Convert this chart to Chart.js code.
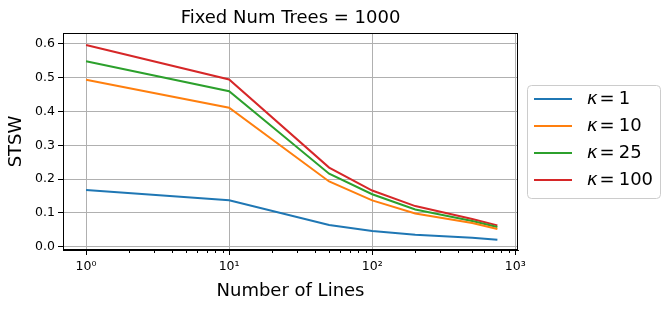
<!DOCTYPE html>
<html>
<head>
<meta charset="utf-8">
<script src="https://cdn.jsdelivr.net/npm/chart.js@4"></script>
<style>
  html, body { margin: 0; padding: 0; background: #fff; }
  #wrap { width: 670px; height: 312px; position: relative; }
</style>
</head>
<body>
<div id="wrap"><canvas id="chart"></canvas></div>
<script>
// data
const numLines = [1, 10, 50, 100, 200, 500, 750];
const kappaLabels = ["1", "10", "25", "100"];
const kappa1 = [0.168, 0.137, 0.064, 0.046, 0.035, 0.026, 0.020];
const kappa10 = [0.494, 0.411, 0.193, 0.137, 0.098, 0.070, 0.052];
const kappa25 = [0.549, 0.460, 0.216, 0.155, 0.110, 0.076, 0.058];
const kappa100 = [0.597, 0.495, 0.234, 0.166, 0.120, 0.082, 0.063];
const yTicks = [0, 0.1, 0.2, 0.3, 0.4, 0.5, 0.6];
const titleText = "Fixed Num Trees = 1000";

const colors = ["#1f77b4", "#ff7f0e", "#2ca02c", "#d62728"];
const series = [kappa1, kappa10, kappa25, kappa100];
const font = "DejaVu Sans";
const sup = { 0: "\u2070", 1: "\u00b9", 2: "\u00b2", 3: "\u00b3" };

function isMajor(v) {
  const l = Math.log10(v);
  return Math.abs(l - Math.round(l)) < 1e-9;
}

const ctx = document.getElementById("chart");

// frame, minor ticks, title, legend
const extras = {
  id: "extras",
  afterDraw(chart) {
    const c = chart.ctx;
    const a = chart.chartArea;
    const xs = chart.scales.x;
    c.save();
    c.strokeStyle = "#000";
    c.lineWidth = 1;
    c.strokeRect(a.left + 0.5, a.top + 0.5, a.right - a.left - 1, a.bottom - a.top - 1);
    // minor ticks
    xs.ticks.forEach((t) => {
      if (isMajor(t.value)) return;
      const px = Math.round(xs.getPixelForValue(t.value)) + 0.5;
      c.beginPath();
      c.moveTo(px, a.bottom);
      c.lineTo(px, a.bottom + 3);
      c.stroke();
    });
    // title
    c.fillStyle = "#000";
    c.font = "18px '" + font + "'";
    c.textAlign = "center";
    c.textBaseline = "middle";
    c.fillText(titleText, (a.left + a.right) / 2, 18);
    // legend
    const lx = 527, ly = 85, lw = 133, lh = 113;
    c.beginPath();
    c.roundRect(lx + 0.5, ly + 0.5, lw, lh, 4);
    c.fillStyle = "rgba(255,255,255,0.8)";
    c.fill();
    c.strokeStyle = "#cccccc";
    c.stroke();
    chart.data.datasets.forEach((ds, i) => {
      const y = 99 + i * 27;
      c.strokeStyle = ds.borderColor;
      c.lineWidth = 2;
      c.beginPath();
      c.moveTo(534, y);
      c.lineTo(572, y);
      c.stroke();
      c.fillStyle = "#000";
      c.textAlign = "left";
      c.font = "italic 18px '" + font + "'";
      c.fillText("\u03ba", 587, y);
      const kw = c.measureText("\u03ba").width;
      c.font = "18px '" + font + "'";
      const eqX = 587 + kw + 2;
      c.fillText("=", eqX, y);
      const ew = c.measureText("=").width;
      c.fillText(kappaLabels[i], eqX + ew + 4, y);
    });
    c.restore();
  },
};

new Chart(ctx, {
  type: "line",
  data: {
    datasets: series.map((vals, i) => ({
      label: "\u03ba = " + kappaLabels[i],
      data: numLines.map((n, j) => ({ x: n, y: vals[j] })),
      borderColor: colors[i],
      backgroundColor: colors[i],
      borderWidth: 2,
      pointRadius: 0,
      tension: 0,
    })),
  },
  options: {
    responsive: true,
    maintainAspectRatio: false,
    animation: false,
    layout: {
      padding: { top: 33, right: 152, left: 0, bottom: 0 },
    },
    plugins: {
      legend: { display: false },
      tooltip: { enabled: false },
    },
    scales: {
      x: {
        type: "logarithmic",
        min: 0.69,
        max: 1045,
        afterFit(scale) {
          scale.height = 62;
        },
        afterBuildTicks(scale) {
          const t = [];
          for (let d = 1; d <= 1000; d *= 10) {
            for (let m = 1; m <= 9; m++) {
              const v = m * d;
              if (v >= scale.min && v <= scale.max) t.push({ value: v });
            }
          }
          scale.ticks = t;
        },
        grid: {
          color: (c) => (c.tick && isMajor(c.tick.value) ? "#b0b0b0" : "rgba(0,0,0,0)"),
          tickColor: (c) => (c.tick && isMajor(c.tick.value) ? "#000" : "rgba(0,0,0,0)"),
          tickLength: 5,
          lineWidth: 1,
        },
        border: { color: "#000" },
        ticks: {
          autoSkip: false,
          maxRotation: 0,
          padding: 4,
          color: "#000",
          font: { family: font, size: 12.5 },
          callback: (v) => (isMajor(v) ? "10" + sup[Math.round(Math.log10(v))] : ""),
        },
        title: {
          display: true,
          text: "Number of Lines",
          color: "#000",
          font: { family: font, size: 18 },
          padding: { top: 0, bottom: 10 },
        },
      },
      y: {
        min: -0.01,
        max: 0.6325,
        afterFit(scale) {
          scale.width = 63;
        },
        afterBuildTicks(scale) {
          scale.ticks = yTicks.map((v) => ({ value: v }));
        },
        grid: {
          color: "#b0b0b0",
          tickColor: "#000",
          tickLength: 5,
          lineWidth: 1,
        },
        border: { color: "#000" },
        ticks: {
          padding: 3,
          color: "#000",
          font: { family: font, size: 12.5 },
          callback: (v) => v.toFixed(1),
        },
        title: {
          display: true,
          text: "STSW",
          color: "#000",
          font: { family: font, size: 18 },
          padding: { top: 6, bottom: 0 },
        },
      },
    },
  },
  plugins: [extras],
});
</script>
</body>
</html>
